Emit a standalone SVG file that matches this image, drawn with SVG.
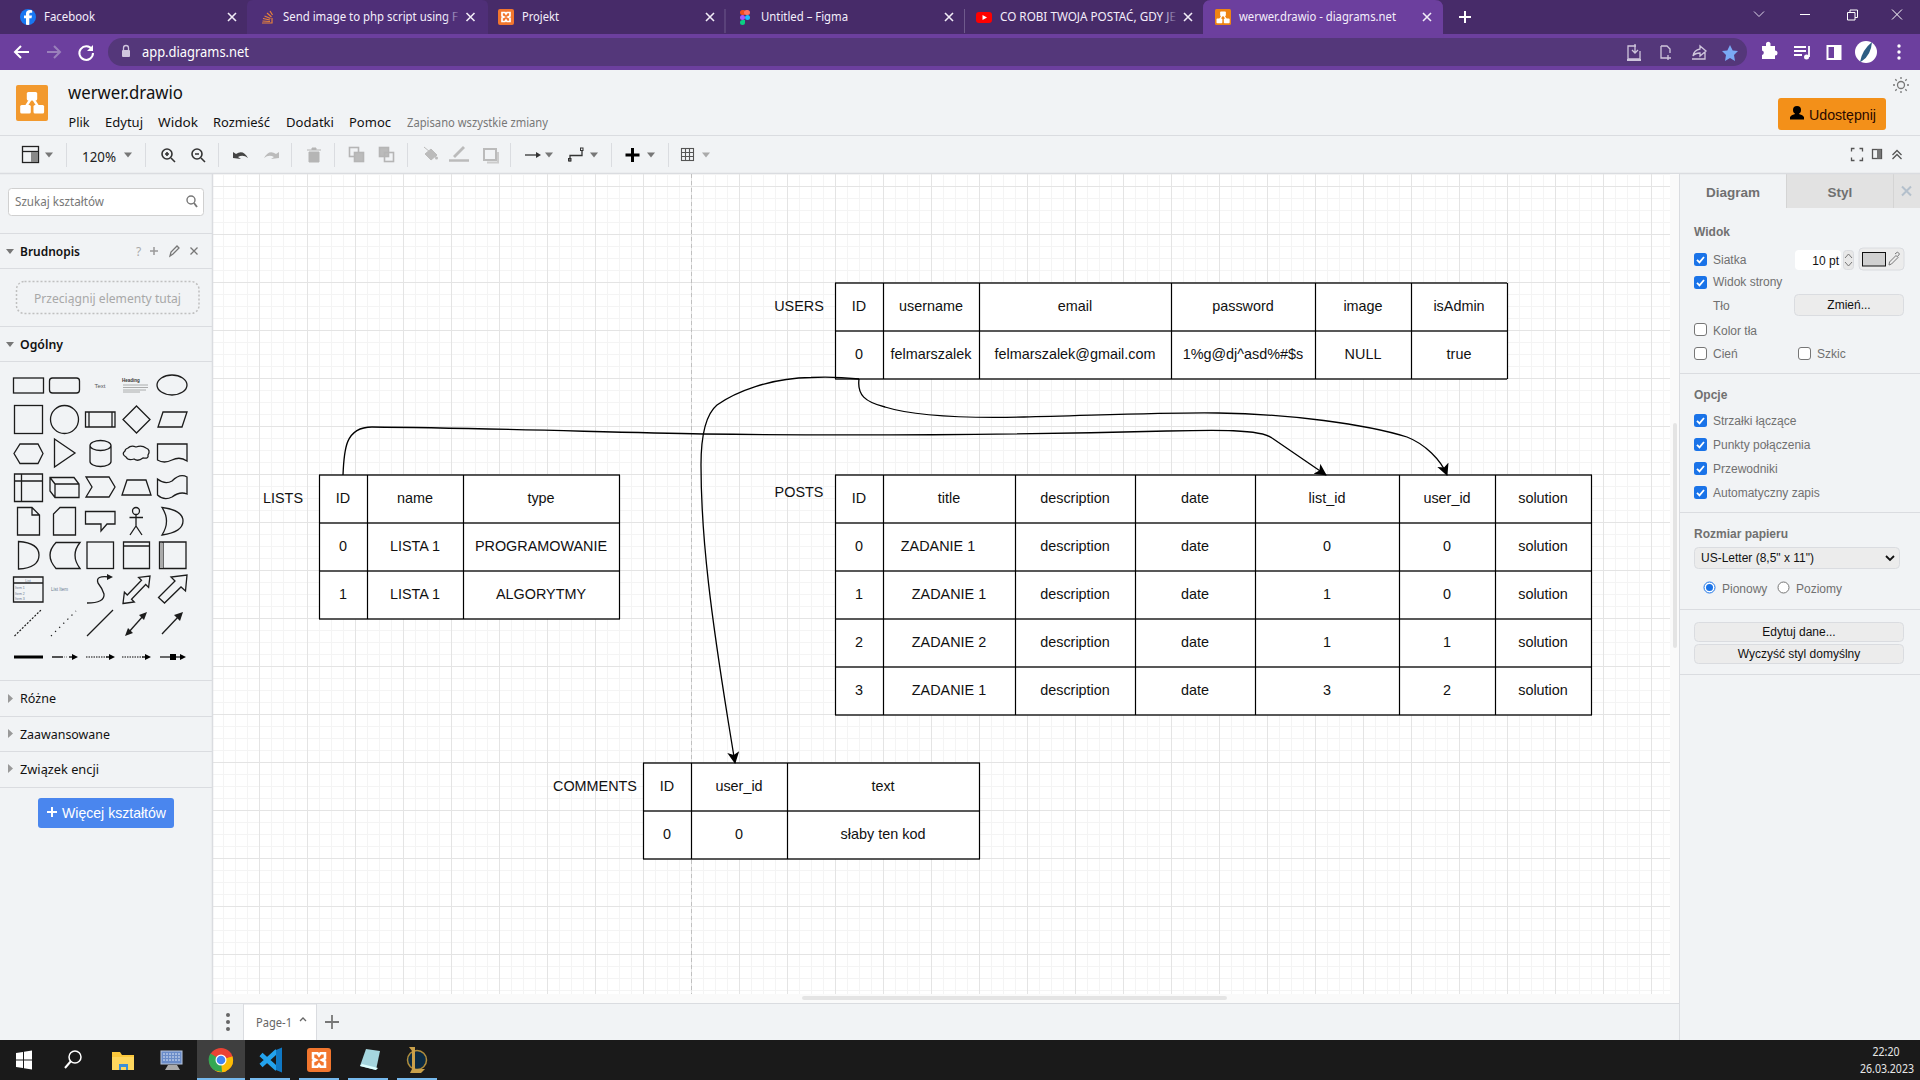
<svg xmlns="http://www.w3.org/2000/svg" width="1920" height="1080" viewBox="0 0 1920 1080">
<style>
text{font-family:"Liberation Sans",Arial,sans-serif;white-space:pre}
.t{font-size:14.4px;fill:#111;text-anchor:middle}
.ui{font-family:"Noto Sans","Open Sans",sans-serif}
.tab{font-family:"Noto Sans",sans-serif;font-size:12px;fill:#f4eefb}
.menu{font-family:"Noto Sans",sans-serif;font-size:13px;fill:#111}
.side{font-family:"Noto Sans",sans-serif;font-size:12.5px;fill:#111}
.sb{font-family:"Noto Sans",sans-serif;font-size:12.5px;font-weight:600;fill:#111}
.ph{font-size:12px;fill:#707070}
.phb{font-size:12px;font-weight:bold;fill:#707070}
.btn{font-size:12px;fill:#111;text-anchor:middle}
.sep{stroke:#dadce0;stroke-width:1;fill:none}
.hl{stroke:#dadce0;stroke-width:1;fill:none}
.x{stroke:#f1ecf7;stroke-width:1.6;fill:none}
.ic{stroke:#333;stroke-width:1.6;fill:none}
.icg{stroke:#b5b5b5;stroke-width:1.6;fill:none}
.dd{fill:#777}
.ddl{fill:#aaa}
.s{fill:none;stroke:#1c1c1c;stroke-width:1.3}
.cellv{stroke:#000;stroke-width:1.2;fill:none}
.cellh{stroke:#222;stroke-width:1.7;fill:none}
.cell{fill:#fff}
.cb{fill:#1a73e8}
.cbo{fill:#fff;stroke:#767676;stroke-width:1}
.con{fill:none;stroke:#000;stroke-width:1.3}
.bt{fill:#ececec;stroke:#dadce0;stroke-width:1}
</style>
<defs>
<pattern id="gridMinor" patternUnits="userSpaceOnUse" x="211" y="42" width="12" height="12"><path d="M.5 0V12M0 .5H12" fill="none" stroke="#f4f4f4" stroke-width="1"/></pattern>
<pattern id="gridMajor" patternUnits="userSpaceOnUse" x="211" y="42" width="48" height="48"><path d="M.5 0V48M0 .5H48" fill="none" stroke="#e4e4e4" stroke-width="1"/></pattern>
<marker id="arrow" markerUnits="userSpaceOnUse" markerWidth="16" markerHeight="16" refX="11" refY="6" orient="auto"><path d="M0 0L12 6L0 12L3 6Z" fill="#000"/></marker>
<linearGradient id="fadeA" x1="0" x2="1" y1="0" y2="0"><stop offset="0" stop-color="#4f2f78" stop-opacity="0"/><stop offset="1" stop-color="#4f2f78"/></linearGradient>
<linearGradient id="fadeB" x1="0" x2="1" y1="0" y2="0"><stop offset="0" stop-color="#472b69" stop-opacity="0"/><stop offset="1" stop-color="#472b69"/></linearGradient>
<g id="ck"><rect width="13" height="13" rx="2.5" class="cb"/><path d="M3 6.8L5.5 9.3L10 4" fill="none" stroke="#fff" stroke-width="1.8"/></g>
<g id="un"><rect x=".5" y=".5" width="12" height="12" rx="2.5" class="cbo"/></g>
<g id="dx"><path d="M-4-4L4 4M4-4L-4 4" class="x"/></g>
<path id="tri" d="M-4-2.5H4L0 2.5Z"/>
<g id="xmp"><rect x="-8" y="-8" width="16" height="16" rx="2" fill="#f2762e"/><path d="M-4-4.5H-1L0-3L1-4.500H4V-1L2 0L4 1V4.500H1L0 3L-1 4.500H-4V1L-2 0L-4-1Z" fill="none" stroke="#fff" stroke-width="1.700"/></g>
<g id="dio"><path d="M0-6L-7 5M0-6L7 5" stroke="#fff" stroke-width="2.400" fill="none"/><rect x="-5.200" y="-11" width="10.400" height="8.500" rx="1.500" fill="#fff"/><rect x="-11.800" y="2" width="10.600" height="8.500" rx="1.500" fill="#fff"/><rect x="1.500" y="2" width="10.600" height="8.500" rx="1.500" fill="#fff"/></g>
</defs>

<rect width="1920" height="1080" fill="#f1f3f5"/>

<!-- browser chrome -->
<g id="browser">
<rect width="1920" height="35" fill="#472b69"/>
<rect y="34" width="1920" height="36" fill="#6c3f9e"/>
<path d="M247 34V6Q247 0 253 0H482Q488 0 488 6V34Z" fill="#4f2f78"/>
<path d="M1203 34V8Q1203 0 1211 0H1435Q1443 0 1443 8V34Q1443 41 1450 41H1196Q1203 41 1203 34Z" fill="#6c3f9e"/>
<path d="M725 9V33M964.500 9V33" stroke="#6f5a8c" stroke-width="1"/>
<clipPath id="fbc"><circle cx="28" cy="17" r="8"/></clipPath>
<circle cx="28" cy="17" r="8" fill="#1877f2"/>
<path clip-path="url(#fbc)" d="M29.300 26V18.300H31.500L32 15.600H29.300V14Q29.300 12.700 30.700 12.700H32.200V10.300Q25.800 9.300 26 14V15.600H24V18.300H26V26Z" fill="#fff"/>
<path d="M262 23H272V18M262.500 21L270 21.500M263 18.500L270 20M264.500 16L270.500 18.500M267 13L271.500 17M270 11L272.500 15" fill="none" stroke="#e7813a" stroke-width="1.200"/>
<use href="#xmp" x="506" y="17"/>
<g><rect x="740" y="10" width="6" height="5" rx="2.500" fill="#f24e1e"/><rect x="744" y="10" width="6" height="5" rx="2.500" fill="#ff7262"/><rect x="740" y="15" width="5" height="5" rx="2.500" fill="#a259ff"/><circle cx="747.500" cy="17.500" r="2.500" fill="#1abcfe"/><path d="M740 22.500A2.500 2.500 0 0 0 745 22.500V20H742.500A2.500 2.500 0 0 0 740 22.500Z" fill="#0acf83"/></g>
<rect x="976" y="12" width="16" height="11" rx="3" fill="#f00"/><path d="M982.500 15V20L987 17.500Z" fill="#fff"/>
<rect x="1215" y="9" width="16" height="16" rx="1.500" fill="#ef8413"/><use href="#dio" transform="translate(1223 17.500) scale(.55)"/>
<text class="tab" x="44" y="21" textLength="51" lengthAdjust="spacingAndGlyphs">Facebook</text>
<text class="tab" x="283" y="21" textLength="175" lengthAdjust="spacingAndGlyphs">Send image to php script using F</text>
<rect x="445" y="6" width="16" height="22" fill="url(#fadeA)"/>
<text class="tab" x="522" y="21" textLength="37" lengthAdjust="spacingAndGlyphs">Projekt</text>
<text class="tab" x="761" y="21" textLength="87" lengthAdjust="spacingAndGlyphs">Untitled – Figma</text>
<text class="tab" x="1000" y="21" textLength="176" lengthAdjust="spacingAndGlyphs">CO ROBI TWOJA POSTAĆ, GDY JE</text>
<rect x="1162" y="6" width="16" height="22" fill="url(#fadeB)"/>
<text class="tab" x="1239" y="21" textLength="157" lengthAdjust="spacingAndGlyphs">werwer.drawio - diagrams.net</text>
<use href="#dx" x="232" y="17"/><use href="#dx" x="470.500" y="17"/><use href="#dx" x="710" y="17"/><use href="#dx" x="949" y="17"/><use href="#dx" x="1188" y="17"/><use href="#dx" x="1427" y="17"/>
<path d="M1465 11V23M1459 17H1471" stroke="#fff" stroke-width="2" fill="none"/>
<path d="M1754 11.500L1759 16.500L1764 11.500" stroke="#ddd6e8" stroke-width="1" fill="none"/>
<path d="M1800 14.500H1810" stroke="#fff" stroke-width="1" fill="none"/>
<path d="M1847.500 12.500H1855V20H1847.500ZM1850 12.500V10H1857.500V17.500H1855" stroke="#fff" stroke-width="1" fill="none"/>
<path d="M1892 9.500L1902 19.500M1902 9.500L1892 19.500" stroke="#fff" stroke-width="1" fill="none"/>
<rect x="108" y="38" width="1639" height="28" rx="14" fill="#54377a"/>
<path d="M29 52H15M21 46L15 52L21 58" stroke="#fff" stroke-width="2" fill="none"/>
<path d="M47 52H60M54 46L60 52L54 58" stroke="#9a80bb" stroke-width="2" fill="none"/>
<path d="M92 49.500A6.800 6.800 0 1 0 93 53" stroke="#fff" stroke-width="2" fill="none"/><path d="M93 45V51H87Z" fill="#fff"/>
<rect x="122" y="50" width="8" height="7" rx="1" fill="#d0c6de"/><path d="M123.500 50V48A2.500 2.500 0 0 1 128.500 48V50" stroke="#d0c6de" stroke-width="1.300" fill="none"/>
<text class="ui" x="142" y="57" font-size="14" fill="#fff" textLength="107" lengthAdjust="spacingAndGlyphs">app.diagrams.net</text>
<g fill="none" stroke="#cfc6dc" stroke-width="1.300"><path d="M1636 46H1628V59H1640V51M1635 44V53M1632 50L1635 53L1638 50"/><path d="M1627 60H1641" stroke-width="2"/><path d="M1661 46H1667L1670 49V53M1661 46V58H1665M1668 55V60M1665 58H1671"/><path d="M1692 59H1705V52M1693 56Q1694 50 1700 49V46L1706 51L1700 56V53Q1695 53 1693 56Z"/></g>
<path d="M1730 45L1732.700 50.400L1738 51L1734 55L1735 61L1730 58L1725 61L1726 55L1722 51L1727.300 50.400Z" fill="#7aa9f5"/>
<path d="M1763 49H1767V46.500A2.300 2.300 0 0 1 1771.500 46.500V49H1776V53.500A2.300 2.300 0 0 1 1776 58.500V62H1763V58A2.300 2.300 0 0 0 1763 53.500Z" fill="#fff" transform="translate(-1 -3)"/>
<path d="M1794 47H1806M1794 51H1806M1794 55H1802M1809 46V57" stroke="#fff" stroke-width="1.800" fill="none"/><circle cx="1806.500" cy="57" r="2.500" fill="#fff"/>
<rect x="1827.500" y="46" width="13" height="13" fill="none" stroke="#fff" stroke-width="2"/><rect x="1834" y="46" width="7" height="13" fill="#fff"/>
<circle cx="1866" cy="52" r="11" fill="#fff"/><path d="M1860 62Q1862 50 1872 42Q1871 55 1862 61Z" fill="#2d5d83"/>
<circle cx="1899" cy="46" r="1.700" fill="#fff"/><circle cx="1899" cy="52" r="1.700" fill="#fff"/><circle cx="1899" cy="58" r="1.700" fill="#fff"/>
</g>

<!-- app header -->
<g id="header">
<path d="M0 135.500H1920" class="hl"/>
<rect x="16" y="85" width="32" height="36" rx="2" fill="#f2992e"/>
<use href="#dio" x="32" y="103"/>
<text class="ui" x="68" y="99" font-size="18" fill="#111" textLength="115" lengthAdjust="spacingAndGlyphs">werwer.drawio</text>
<text class="menu" x="68.500" y="127" textLength="21" lengthAdjust="spacingAndGlyphs">Plik</text>
<text class="menu" x="105" y="127" textLength="38" lengthAdjust="spacingAndGlyphs">Edytuj</text>
<text class="menu" x="158" y="127" textLength="40" lengthAdjust="spacingAndGlyphs">Widok</text>
<text class="menu" x="213" y="127" textLength="57" lengthAdjust="spacingAndGlyphs">Rozmieść</text>
<text class="menu" x="286" y="127" textLength="48" lengthAdjust="spacingAndGlyphs">Dodatki</text>
<text class="menu" x="349" y="127" textLength="42" lengthAdjust="spacingAndGlyphs">Pomoc</text>
<text class="ui" x="407" y="127" font-size="12" fill="#777" textLength="141" lengthAdjust="spacingAndGlyphs">Zapisano wszystkie zmiany</text>
<rect x="1778" y="98" width="108" height="32" rx="3" fill="#f39019"/>
<circle cx="1797" cy="110" r="4" fill="#000"/><path d="M1790 119.500V117Q1791 115 1795 114H1799Q1803 115 1804 117V119.500Z" fill="#000"/><rect x="1795" y="110" width="4" height="6" fill="#000"/>
<text x="1809" y="120" font-size="14.400" fill="#2a0800" textLength="67" lengthAdjust="spacingAndGlyphs">Udostępnij</text>
<circle cx="1901" cy="85" r="3.500" fill="none" stroke="#777" stroke-width="1.300"/><path d="M1901 77V79M1901 91V93M1893 85H1895M1907 85H1909M1895.300 79.300L1896.700 80.700M1905.300 89.300L1906.700 90.700M1895.300 90.700L1896.700 89.300M1905.300 80.700L1906.700 79.300" stroke="#777" stroke-width="1.300" fill="none"/>
</g>

<!-- toolbar -->
<g id="toolbar">
<path d="M0 173.500H1680" stroke="#dadce0" stroke-width="1.500"/>
<path d="M66.500 143V167M145.500 143V167M218.500 143V167M291.500 143V167M334.500 143V167M407.500 143V167M510.500 143V167M611.500 143V167M668.500 143V167" class="sep"/>
<rect x="22.500" y="146.500" width="16" height="16" fill="none" stroke="#222" stroke-width="1.300"/><path d="M22.500 151.500H38.500" stroke="#222" stroke-width="1.300"/><rect x="31" y="152" width="7" height="10" fill="#888"/>
<use href="#tri" x="49" y="155" class="dd"/>
<text class="ui" x="82" y="162" font-size="13.500" fill="#222" textLength="34" lengthAdjust="spacingAndGlyphs">120%</text>
<use href="#tri" x="128" y="155" class="dd"/>
<g class="ic"><circle cx="167" cy="154" r="5"/><path d="M171 158L175 162M165 154H169M167 152V156"/><circle cx="197" cy="154" r="5"/><path d="M201 158L205 162M195 154H199"/></g>
<path d="M233 158V152L236 154Q243 149 248 158Q243 154 238 157L241 159Z" fill="#444"/>
<path d="M279 158V152L276 154Q269 149 264 158Q269 154 274 157L271 159Z" fill="#bbb"/>
<path d="M307 150H321M312 150V148H316V150M309 152H319V162H309Z" fill="#b5b5b5" stroke="#b5b5b5"/>
<g class="icg" stroke-width="1.300"><rect x="349.500" y="147.500" width="9" height="9"/><rect x="354.500" y="152.500" width="9" height="9" fill="#bbb"/><rect x="379.500" y="147.500" width="9" height="9" fill="#bbb"/><rect x="384.500" y="152.500" width="9" height="9"/></g>
<path d="M424 147L436 157M425 154L431 149L437 155L431 160Z" fill="#bbb" stroke="#bbb"/><circle cx="436.500" cy="158" r="1.500" fill="#bbb"/>
<path d="M449 160.500H469" stroke="#bbb" stroke-width="2.500"/><path d="M453 156L463 146L465 148L455 158Z" fill="#bbb"/>
<rect x="484" y="149" width="12" height="11" fill="none" stroke="#bbb" stroke-width="2"/><path d="M487 162.500H498V152" fill="none" stroke="#ccc" stroke-width="2"/>
<path d="M525 155H539" stroke="#333" stroke-width="1.300"/><path d="M536 152L541 155L536 158Z" fill="#333"/><use href="#tri" x="549" y="155" class="dd"/>
<path d="M570 161.500V155.500H582V150" stroke="#333" stroke-width="1.300" fill="none"/><rect x="568.500" y="158.500" width="2.500" height="2.500" fill="none" stroke="#333"/><rect x="580.500" y="148" width="2.500" height="2.500" fill="none" stroke="#333"/><use href="#tri" x="594" y="155" class="dd"/>
<path d="M632.500 148V162M625.500 155H639.500" stroke="#000" stroke-width="3"/><use href="#tri" x="651" y="155" class="dd"/>
<g stroke="#555" stroke-width="1.100" fill="none"><rect x="681.500" y="148.500" width="12" height="12"/><path d="M685.500 148.500V160.500M689.500 148.500V160.500M681.500 152.500H693.500M681.500 156.500H693.500"/></g><use href="#tri" x="706" y="155" class="ddl"/>
<path d="M1851.500 151.500V148.500H1854.500M1859.500 148.500H1862.500V151.500M1851.500 157.500V160.500H1854.500M1862.500 157.500V160.500H1859.500" stroke="#555" stroke-width="1.300" fill="none"/>
<rect x="1872.500" y="149.500" width="9" height="9" fill="none" stroke="#555" stroke-width="1.300"/><rect x="1877" y="149.500" width="4" height="9" fill="#777"/>
<path d="M1892.500 155L1897 150.500L1901.500 155M1892.500 159L1897 154.500L1901.500 159" stroke="#555" stroke-width="1.300" fill="none"/>
</g>

<!-- canvas -->
<g id="canvas">
<rect x="213" y="174" width="1466" height="829" fill="#fafafa"/>
<rect x="213" y="174" width="1457" height="820" fill="#fff"/>
<rect x="213" y="174" width="1457" height="820" fill="url(#gridMinor)"/>
<rect x="213" y="174" width="1457" height="820" fill="url(#gridMajor)"/>
<path d="M691.500 174V994" stroke="#c0c0c0" stroke-width="1" stroke-dasharray="4 3" fill="none"/>
<rect x="1673" y="423" width="4" height="225" rx="2" fill="#e4e4e4"/>
<rect x="802" y="996" width="425" height="4" rx="2" fill="#e4e4e4"/>
</g>

<!-- sidebar -->
<g id="sidebar">
<path d="M212.500 174V1040" stroke="#dadce0" stroke-width="1.500"/>
<rect x="8.500" y="188.500" width="195" height="27" rx="3" fill="#fff" stroke="#d0d0d0"/>
<text class="ui" x="15" y="206" font-size="12" fill="#777" textLength="89" lengthAdjust="spacingAndGlyphs">Szukaj kształtów</text>
<circle cx="191" cy="200" r="4" fill="none" stroke="#777" stroke-width="1.400"/><path d="M194 203L197 207" stroke="#777" stroke-width="1.800"/>
<path d="M0 233.500H212M0 268.500H212M0 326.500H212M0 361.500H212M0 680.500H212M0 716.500H212M0 751.500H212M0 787.500H212" class="hl"/>
<path d="M6 249H14L10 254Z" fill="#777"/>
<text class="sb" x="20" y="256" textLength="60" lengthAdjust="spacingAndGlyphs">Brudnopis</text>
<text class="ui" x="136" y="256" font-size="12" fill="#aaa">?</text>
<path d="M154 247V255M150 251H158" stroke="#999" stroke-width="1.500"/>
<path d="M170 256L171 252L177 246L179 248L173 254Z" fill="none" stroke="#777" stroke-width="1.300"/>
<path d="M190.500 247.500L197.500 254.500M197.500 247.500L190.500 254.500" stroke="#777" stroke-width="1.300"/>
<rect x="16.500" y="281.500" width="182.500" height="32" rx="8" fill="none" stroke="#c0c0c0" stroke-width="1.500" stroke-dasharray="2 2"/>
<text class="ui" x="34" y="303" font-size="13" fill="#a8a8a8" textLength="147" lengthAdjust="spacingAndGlyphs">Przeciągnij elementy tutaj</text>
<path d="M6 342H14L10 347Z" fill="#777"/>
<text class="sb" x="20" y="349" textLength="43" lengthAdjust="spacingAndGlyphs">Ogólny</text>
<path d="M8 694V703L13 698.500Z" fill="#999"/><path d="M8 729V738L13 733.500Z" fill="#999"/><path d="M8 764V773L13 768.500Z" fill="#999"/>
<text class="side" x="20" y="703" textLength="36" lengthAdjust="spacingAndGlyphs">Różne</text>
<text class="side" x="20" y="739" textLength="90" lengthAdjust="spacingAndGlyphs">Zaawansowane</text>
<text class="side" x="20" y="774" textLength="79" lengthAdjust="spacingAndGlyphs">Związek encji</text>
<rect x="38" y="798" width="136" height="30" rx="3" fill="#4a86ee"/>
<path d="M52 807V817M47 812H57" stroke="#fff" stroke-width="2"/>
<text x="62" y="818" font-size="14.400" fill="#fff" textLength="104" lengthAdjust="spacingAndGlyphs">Więcej kształtów</text>

<g id="palette">
<rect class="s" x="13.500" y="378" width="30" height="15"/>
<rect class="s" x="49.500" y="378" width="30" height="15" rx="3"/>
<text x="100" y="388" font-size="6" fill="#555" text-anchor="middle">Text</text>
<text x="122" y="382" font-size="4.500" font-weight="bold" fill="#333">Heading</text>
<path d="M123 385H148M123 387.500H148M123 390H146M123 392H140" stroke="#999" stroke-width=".8"/>
<ellipse class="s" cx="172" cy="385" rx="15" ry="10"/>
<rect class="s" x="14.500" y="405.500" width="28" height="28"/>
<circle class="s" cx="64.500" cy="419.500" r="14"/>
<path class="s" d="M85.500 412H115V427H85.500ZM89 412V427M112 412V427"/>
<path class="s" d="M136.500 406L150 419.500L136.500 433L123 419.500Z"/>
<path class="s" d="M163 412H187L182 427H158Z"/>
<path class="s" d="M20 444H38L43 453.500L38 463.500H20L14 453.500Z"/>
<path class="s" d="M54.500 439L75 453L54.500 467Z"/>
<path class="s" d="M90 445.500A10.500 5 0 0 1 111 445.500V461.500A10.500 5 0 0 1 90 461.500ZM90 445.500A10.500 5 0 0 0 111 445.500"/>
<path class="s" d="M128 448Q131 445 136 447Q142 445 146 448Q151 450 148 455Q149 459 143 458Q138 462 134 459Q128 461 126 457Q121 454 125 451Q125 449 128 448Z"/>
<path class="s" d="M157.500 444H187V461Q180 456 172 460Q164 464 157.500 460Z"/>
<path class="s" d="M14.500 474H42.500V501.500H14.500ZM21.500 474V501.500M14.500 481H42.500"/>
<path class="s" d="M50 477.500H74L79 484V497.500H55L50 491ZM50 477.500L55 484H79M55 484V497.500"/>
<path class="s" d="M86 477H109L115 487L109 497H86L92 487Z"/>
<path class="s" d="M127 480H146L151 495H122Z"/>
<path class="s" d="M157.500 479Q165 485 172 481Q180 473 187 477V494Q180 491 172 497Q164 501 157.500 495Z"/>
<path class="s" d="M17.500 507.500H32L39.500 515V535H17.500ZM32 507.500V515H39.500"/>
<path class="s" d="M60 507.500H75.500V535H53.500V514Z"/>
<path class="s" d="M85.500 511.500H115V524H107L101 531V524H85.500Z"/>
<circle class="s" cx="136" cy="511" r="3.500"/><path class="s" d="M136 514.500V526M129.500 517.500H143M136 526L130 535M136 526L142 535"/>
<path class="s" d="M162 507.500Q183 510 183 521Q183 532 162 535Q171 521 162 507.500Z"/>
<path class="s" d="M18.500 541.500Q39 543 39 555Q39 568 18.500 569Z"/>
<path class="s" d="M56 542.500H80Q70 555 80 568.500H56Q44 555 56 542.500Z"/>
<rect class="s" x="87" y="542" width="26.500" height="26.500"/>
<path class="s" d="M123.500 542H149.500V568.500H123.500ZM123.500 546H149.500"/>
<path class="s" d="M159.500 542H186V568.500H159.500ZM163 542V568.500"/><rect x="160" y="543" width="3" height="25" fill="#aaa"/>
<path class="s" d="M13.500 577H43V602H13.500ZM13.500 583H43"/><text x="28" y="581.500" font-size="3.500" fill="#6a7a90" text-anchor="middle">List</text>
<g font-size="3.500" fill="#6a7a90"><text x="15" y="588.500">Item 1</text><text x="15" y="594.500">Item 2</text><text x="15" y="600">Item 3</text></g>
<text x="51" y="590.500" font-size="4.500" fill="#6a7a90">List Item</text>
<path class="s" d="M87 603Q105 603 104 594Q102 588 98 583Q95 575 110 577"/><path d="M107 574L113 577L107 580Z" fill="#1c1c1c"/>
<path class="s" d="M123 603.500L134.300 602L131.500 599.200L145.700 584.500L148.600 587.400L150 576L138.600 577.400L141.500 580.300L127.300 595L124.400 592.200Z"/>
<path class="s" d="M158.500 597.500L175 581L171 577L187 575L185.500 591L181 587L164.500 603Z"/>
<path d="M14.500 636L41 610" fill="none" stroke="#1c1c1c" stroke-width="1.200" stroke-dasharray="2 1.500"/>
<path d="M51 636L76 611" fill="none" stroke="#1c1c1c" stroke-width="1.200" stroke-dasharray="1.300 4.500"/>
<path d="M87 636L113 610" class="s"/>
<path d="M128 633L144 615" class="s"/><path d="M125 636L128 628L133 633ZM147 612L139 615L144 620Z" fill="#1c1c1c"/>
<path d="M162 634L179 616" class="s"/><path d="M183 612L174 615L180 621Z" fill="#1c1c1c"/>
<path d="M14 657H43" stroke="#000" stroke-width="3"/>
<path d="M52 657H63M69 657H74" class="s"/><path d="M64 657H68" stroke="#777" stroke-dasharray="1 1"/><path d="M72 654L78 657L72 660Z" fill="#000"/>
<path d="M86 657H110" stroke="#555" stroke-width="1.300" stroke-dasharray="1.500 1"/><path d="M106 657H110" class="s"/><path d="M109 654L115 657L109 660Z" fill="#000"/>
<path d="M122 657H146" stroke="#555" stroke-width="1.300" stroke-dasharray="1.500 1"/><path d="M142 657H146" class="s"/><path d="M145 654L151 657L145 660Z" fill="#000"/>
<path d="M160 657H183" class="s"/><path d="M180 654L186 657L180 660Z" fill="#000"/><rect x="170" y="654" width="6" height="6" fill="#000"/>
</g>
</g>

<!-- page tabs -->
<g id="footer">
<path d="M213 1003.500H1680" class="hl"/>
<path d="M1679.500 174V1040" stroke="#dadce0" stroke-width="1"/>
<circle cx="228" cy="1015" r="2" fill="#666"/><circle cx="228" cy="1022" r="2" fill="#666"/><circle cx="228" cy="1029" r="2" fill="#666"/>
<path d="M243.500 1040V1004H316.500V1040" fill="#fff" stroke="#dadce0"/>
<text class="ui" x="256" y="1027" font-size="12" fill="#666" textLength="36" lengthAdjust="spacingAndGlyphs">Page-1</text>
<path d="M300 1021L303 1018L306 1021" stroke="#666" stroke-width="1.300" fill="none"/>
<path d="M332 1015V1029M325 1022H339" stroke="#777" stroke-width="1.800"/>
</g>

<!-- format panel -->
<g id="panel">
<rect x="1787" y="174" width="133" height="34" fill="#e2e2e2"/>
<path d="M1786.500 174V208M1893.500 174V208" stroke="#d4d4d4"/>
<path d="M1680 173.500H1920" stroke="#dadce0" stroke-width="1.500"/>
<text x="1733" y="197" font-size="13.500" font-weight="bold" fill="#707070" text-anchor="middle">Diagram</text>
<text x="1840" y="197" font-size="13.500" font-weight="bold" fill="#707070" text-anchor="middle">Styl</text>
<path d="M1902 186.500L1911 195.500M1911 186.500L1902 195.500" stroke="#b4c0cc" stroke-width="2"/>
<text class="phb" x="1694" y="236">Widok</text>
<use href="#ck" x="1694" y="253"/><text class="ph" x="1713" y="264">Siatka</text>
<rect x="1795" y="250" width="46" height="20" rx="4" fill="#fff"/>
<text x="1839" y="264.500" font-size="12" fill="#111" text-anchor="end">10 pt</text>
<rect x="1843.500" y="250.500" width="10" height="19" rx="3" fill="#e8e8e8" stroke="#dadce0"/><path d="M1845 258L1848.500 254L1852 258M1845 262L1848.500 266L1852 262" fill="none" stroke="#777"/>
<rect class="bt" x="1859" y="248" width="45" height="22" rx="4"/>
<rect x="1862.500" y="252.500" width="23" height="13.500" fill="#d0d0d0" stroke="#111"/>
<path d="M1889 265L1889.500 262L1896 255.500L1898 257.500L1891.500 264Z M1895 254L1897.500 252L1899.500 254L1897.500 256.500" fill="none" stroke="#777"/>
<use href="#ck" x="1694" y="276"/><text class="ph" x="1713" y="286">Widok strony</text>
<text class="ph" x="1713" y="310">Tło</text>
<rect class="bt" x="1794.500" y="294.500" width="109" height="21" rx="4"/><text class="btn" x="1849" y="309">Zmień...</text>
<use href="#un" x="1694" y="323"/><text class="ph" x="1713" y="335">Kolor tła</text>
<use href="#un" x="1694" y="347"/><text class="ph" x="1713" y="358">Cień</text>
<use href="#un" x="1798" y="347"/><text class="ph" x="1817" y="358">Szkic</text>
<path d="M1680 373.500H1920" class="hl"/>
<text class="phb" x="1694" y="399">Opcje</text>
<use href="#ck" x="1694" y="414"/><text class="ph" x="1713" y="425">Strzałki łączące</text>
<use href="#ck" x="1694" y="438"/><text class="ph" x="1713" y="449">Punkty połączenia</text>
<use href="#ck" x="1694" y="462"/><text class="ph" x="1713" y="473">Przewodniki</text>
<use href="#ck" x="1694" y="486"/><text class="ph" x="1713" y="497">Automatyczny zapis</text>
<path d="M1680 512.500H1920" class="hl"/>
<text class="phb" x="1694" y="538">Rozmiar papieru</text>
<rect class="bt" x="1694.500" y="547.500" width="205" height="21" rx="4"/>
<text x="1701" y="562" font-size="12" fill="#111">US-Letter (8,5" x 11")</text>
<path d="M1886 556L1890 560L1894 556" fill="none" stroke="#111" stroke-width="1.800"/>
<circle cx="1709.500" cy="587.500" r="5.500" fill="#fff" stroke="#1a73e8" stroke-width="1"/><circle cx="1709.500" cy="587.500" r="3.500" fill="#1a73e8"/>
<text class="ph" x="1722" y="593">Pionowy</text>
<circle cx="1783.500" cy="587.500" r="5.500" fill="#fff" stroke="#767676" stroke-width="1"/>
<text class="ph" x="1796" y="593">Poziomy</text>
<path d="M1680 609.500H1920" class="hl"/>
<rect class="bt" x="1694.500" y="622.500" width="209" height="19" rx="4"/><text class="btn" x="1799" y="636">Edytuj dane...</text>
<rect class="bt" x="1694.500" y="644.500" width="209" height="19" rx="4"/><text class="btn" x="1799" y="658">Wyczyść styl domyślny</text>
<path d="M1680 674.500H1920" class="hl"/>
</g>

<!-- diagram nodes -->
<g id="USERS">
<text class="t" x="799" y="311">USERS</text>
<rect class="cell" x="835" y="283" width="672" height="96"/>
<path class="cellh" d="M835 283H1507M835 331H1507M835 379H1507"/>
<path class="cellv" d="M835.500 283V379M883.500 283V379M979.500 283V379M1171.500 283V379M1315.500 283V379M1411.500 283V379M1507.500 283V379"/>
<text class="t" x="859" y="311">ID</text><text class="t" x="931" y="311">username</text><text class="t" x="1075" y="311">email</text><text class="t" x="1243" y="311">password</text><text class="t" x="1363" y="311">image</text><text class="t" x="1459" y="311">isAdmin</text>
<text class="t" x="859" y="359">0</text><text class="t" x="931" y="359">felmarszalek</text><text class="t" x="1075" y="359">felmarszalek@gmail.com</text><text class="t" x="1243" y="359">1%g@dj^asd%#$s</text><text class="t" x="1363" y="359">NULL</text><text class="t" x="1459" y="359">true</text>
</g>
<g id="LISTS">
<text class="t" x="283" y="503">LISTS</text>
<rect class="cell" x="319" y="475" width="300" height="144"/>
<path class="cellh" d="M319 475H620M319 523H620M319 571H620M319 619H620"/>
<path class="cellv" d="M319.500 475V619M367.500 475V619M463.500 475V619M619.500 475V619"/>
<text class="t" x="343" y="503">ID</text><text class="t" x="415" y="503">name</text><text class="t" x="541" y="503">type</text>
<text class="t" x="343" y="551">0</text><text class="t" x="415" y="551">LISTA 1</text><text class="t" x="541" y="551">PROGRAMOWANIE</text>
<text class="t" x="343" y="599">1</text><text class="t" x="415" y="599">LISTA 1</text><text class="t" x="541" y="599">ALGORYTMY</text>
</g>
<g id="POSTS">
<text class="t" x="799" y="497">POSTS</text>
<rect class="cell" x="835" y="475" width="756" height="240"/>
<path class="cellh" d="M835 475H1592M835 523H1592M835 571H1592M835 619H1592M835 667H1592M835 715H1592"/>
<path class="cellv" d="M835.500 475V715M883.500 475V715M1015.500 475V715M1135.500 475V715M1255.500 475V715M1399.500 475V715M1495.500 475V715M1591.500 475V715"/>
<text class="t" x="859" y="503">ID</text><text class="t" x="949" y="503">title</text><text class="t" x="1075" y="503">description</text><text class="t" x="1195" y="503">date</text><text class="t" x="1327" y="503">list_id</text><text class="t" x="1447" y="503">user_id</text><text class="t" x="1543" y="503">solution</text>
<text class="t" x="859" y="551">0</text><text class="t" x="938" y="551">ZADANIE 1</text><text class="t" x="1075" y="551">description</text><text class="t" x="1195" y="551">date</text><text class="t" x="1327" y="551">0</text><text class="t" x="1447" y="551">0</text><text class="t" x="1543" y="551">solution</text>
<text class="t" x="859" y="599">1</text><text class="t" x="949" y="599">ZADANIE 1</text><text class="t" x="1075" y="599">description</text><text class="t" x="1195" y="599">date</text><text class="t" x="1327" y="599">1</text><text class="t" x="1447" y="599">0</text><text class="t" x="1543" y="599">solution</text>
<text class="t" x="859" y="647">2</text><text class="t" x="949" y="647">ZADANIE 2</text><text class="t" x="1075" y="647">description</text><text class="t" x="1195" y="647">date</text><text class="t" x="1327" y="647">1</text><text class="t" x="1447" y="647">1</text><text class="t" x="1543" y="647">solution</text>
<text class="t" x="859" y="695">3</text><text class="t" x="949" y="695">ZADANIE 1</text><text class="t" x="1075" y="695">description</text><text class="t" x="1195" y="695">date</text><text class="t" x="1327" y="695">3</text><text class="t" x="1447" y="695">2</text><text class="t" x="1543" y="695">solution</text>
</g>
<g id="COMMENTS">
<text class="t" x="595" y="791">COMMENTS</text>
<rect class="cell" x="643" y="763" width="336" height="96"/>
<path class="cellh" d="M643 763H980M643 811H980M643 859H980"/>
<path class="cellv" d="M643.500 763V859M691.500 763V859M787.500 763V859M979.500 763V859"/>
<text class="t" x="667" y="791">ID</text><text class="t" x="739" y="791">user_id</text><text class="t" x="883" y="791">text</text>
<text class="t" x="667" y="839">0</text><text class="t" x="739" y="839">0</text><text class="t" x="883" y="839">słaby ten kod</text>
</g>

<!-- connectors -->
<g id="connectors">
<path class="con" marker-end="url(#arrow)" d="M859 379C840 377 820 377 811 377.500C770 378 735 392 717 405C705 415 701 440 701 465C701 540 712 620 728 720L735 763"/>
<path class="con" marker-end="url(#arrow)" d="M343 475C344 450 345 427 372 427C480 428 600 432 703 434C850 436 1000 435 1167 431C1215 430 1260 429 1272 438L1326 475"/>
<path class="con" marker-end="url(#arrow)" d="M859 379C857 395 865 402 885 407C920 418 980 418 1024 417C1080 416 1170 412 1218 413C1290 414 1365 424 1407 437C1425 444 1441 460 1447 475"/>
</g>

<!-- taskbar -->
<g id="taskbar">
<rect y="1040" width="1920" height="40" fill="#1a1a1a"/>
<rect x="197" y="1040" width="48" height="40" fill="#3f3f3f"/>
<path d="M197 1079H245M250 1079H290M299 1079H339M348 1079H388M397 1079H437" stroke="#76b9ed" stroke-width="2"/>
<path d="M16 1053L23 1052V1059.500H16ZM24 1051.800L32 1050.500V1059.500H24ZM16 1060.500H23V1068L16 1067ZM24 1060.500H32V1069.500L24 1068.200Z" fill="#fff"/>
<circle cx="75" cy="1057" r="6" fill="none" stroke="#fff" stroke-width="1.500"/><path d="M71 1061L65 1068" stroke="#fff" stroke-width="2"/>
<path d="M112 1052V1070H134V1055H122L120 1052Z" fill="#fcc83c"/><rect x="112" y="1057" width="22" height="13" fill="#ffd75e"/><rect x="119" y="1064" width="9" height="6" fill="#3c8fd8"/><rect x="121" y="1067" width="5" height="3" fill="#ffd75e"/>
<rect x="161" y="1051" width="21" height="13" fill="#6a8cc8" stroke="#b8c6dd"/><path d="M163 1054H180M163 1057H180M163 1060H180" stroke="#dbe5f5" stroke-dasharray="2 1"/><path d="M168 1065L165 1070H180L177 1065Z" fill="#aaa"/>
<circle cx="221" cy="1060" r="12" fill="#ea4335"/><path d="M221 1060L232.500 1056.500A12 12 0 0 1 215 1070.500Z" fill="#fbbc05"/><path d="M221 1060L215 1070.500A12 12 0 0 1 210.500 1053.500Z" fill="#34a853"/><path d="M221 1060L215 1070.500L226 1071.500L232.500 1056.500Z" fill="#fbbc05"/><path d="M221 1060L210 1054L215 1070.500L222 1072Z" fill="#34a853"/><circle cx="221" cy="1060" r="5.500" fill="#fff"/><circle cx="221" cy="1060" r="4.300" fill="#4285f4"/>
<path d="M261 1065.500L277 1051M261 1054.500L277 1069" stroke="#23a3ee" stroke-width="4.500" fill="none"/><path d="M276 1050L282 1047.500V1072.500L276 1070Z" fill="#0f78c4"/>
<use href="#xmp" transform="translate(319 1060) scale(1.500)"/>
<path d="M360 1066L366 1049L380 1051L376 1070Z" fill="#a5d6de"/><path d="M360 1066L376 1070L378 1068L362 1064Z" fill="#dff"/>
<circle cx="417" cy="1060" r="9.500" fill="#0b2a42" stroke="#b08d3c" stroke-width="1.500"/><path d="M409 1047H415V1069H425L421 1073H410L412 1069V1051Z" fill="#c9a04a"/>
<text class="ui" x="1886" y="1055.500" font-size="12" fill="#e6e6e6" text-anchor="middle" textLength="27" lengthAdjust="spacingAndGlyphs">22:20</text>
<text class="ui" x="1887" y="1073" font-size="12" fill="#e6e6e6" text-anchor="middle" textLength="54" lengthAdjust="spacingAndGlyphs">26.03.2023</text>
</g>
</svg>
